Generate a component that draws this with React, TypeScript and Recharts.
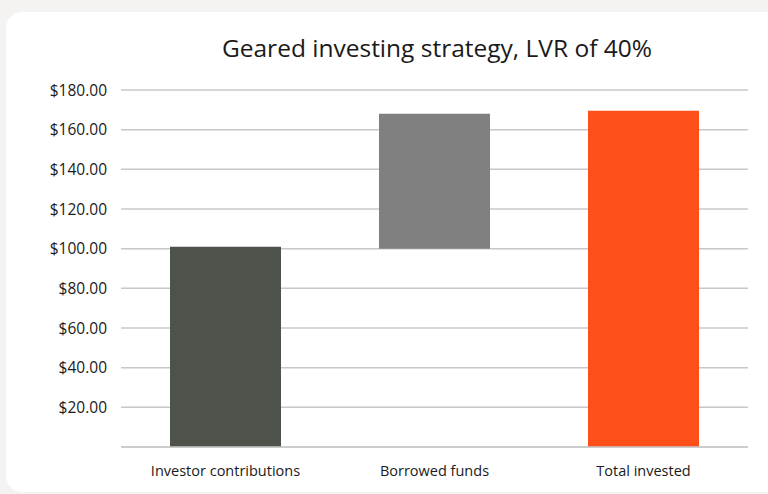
import { BarChart, Bar, XAxis, YAxis, CartesianGrid, Cell } from 'recharts'

// waterfall: invisible base + visible segment
const categories = ['Investor  contributions', 'Borrowed funds', 'Total invested']
const baseValues = [0, 100, 0]
const segmentValues = [101, 68, 169.5]
const barColors = ['#4d524b', '#808080', '#fc4f1a']
const yTicks = [20, 40, 60, 80, 100, 120, 140, 160, 180]

const data = categories.map((name, i) => ({
  name,
  base: baseValues[i],
  value: segmentValues[i],
}))

const FONT = '"Open Sans", Lato, sans-serif'

export default function App() {
  return (
    <div style={{ position: 'fixed', left: 0, top: 0, width: 768, height: 494, background: '#f4f3f1', overflow: 'hidden' }}>
      <div
        style={{
          position: 'absolute',
          left: 6,
          top: 12,
          width: 780,
          height: 480,
          background: '#ffffff',
          borderRadius: 16,
        }}
      >
        <div
          style={{
            position: 'absolute',
            left: 0,
            width: 862,
            top: 19,
            textAlign: 'center',
            fontFamily: FONT,
            fontSize: 24.5,
            color: '#1a1a1a',
            whiteSpace: 'pre',
          }}
        >
          Geared investing strategy, LVR of 40%
        </div>
        <BarChart
          width={762}
          height={482}
          data={data}
          margin={{ top: 78, right: 20, bottom: 17, left: 0 }}
          barSize={111}
        >
          <CartesianGrid vertical={false} stroke="#c8c8c8" strokeWidth={1.5} />
          <XAxis
            dataKey="name"
            axisLine={{ stroke: '#c8c8c8', strokeWidth: 1.5 }}
            tickLine={false}
            tickSize={0}
            tickMargin={19}
            tick={{ fill: '#1a1a1a', fontSize: 14.5, fontFamily: FONT }}
          />
          <YAxis
            width={115}
            domain={[0, 180]}
            ticks={yTicks}
            axisLine={false}
            tickLine={false}
            tickSize={0}
            tickMargin={14}
            tickFormatter={(v: number) => `$${v.toFixed(2)}`}
            tick={{ fill: '#1a1a1a', fontSize: 15.5, fontFamily: FONT }}
          />
          <Bar dataKey="base" stackId="w" fill="transparent" isAnimationActive={false} />
          <Bar dataKey="value" stackId="w" isAnimationActive={false}>
            {data.map((d, i) => (
              <Cell key={d.name} fill={barColors[i]} />
            ))}
          </Bar>
        </BarChart>
      </div>
    </div>
  )
}
